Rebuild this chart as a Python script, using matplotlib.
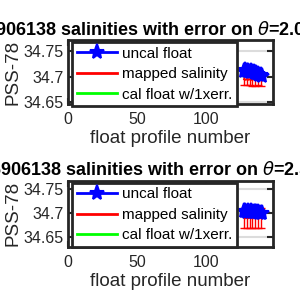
import numpy as np
import matplotlib
matplotlib.use("Agg")
import matplotlib.pyplot as plt
from matplotlib.lines import Line2D

plt.rcParams['font.family'] = ['Liberation Sans', 'DejaVu Sans']

# ---- data ----
profiles = [128, 129, 130, 131, 132, 133, 134, 135, 136, 137, 138, 139, 140, 141]

top_uncal = [34.712, 34.713, 34.711, 34.712, 34.710, 34.711, 34.709,
             34.710, 34.708, 34.707, 34.706, 34.704, 34.703, 34.702]
top_mapped = [34.695, 34.694, 34.695, 34.694, 34.695, 34.694, 34.694,
              34.695, 34.694, 34.694, 34.695, 34.694, 34.694, 34.695]
top_err = [0.012, 0.012, 0.012, 0.012, 0.012, 0.012, 0.012,
           0.012, 0.012, 0.012, 0.012, 0.012, 0.012, 0.012]

bot_uncal = [34.704, 34.705, 34.703, 34.704, 34.703, 34.704, 34.702,
             34.703, 34.702, 34.701, 34.701, 34.700, 34.699, 34.699]
bot_mapped = [34.690, 34.689, 34.690, 34.689, 34.690, 34.689, 34.690,
              34.689, 34.690, 34.689, 34.690, 34.689, 34.690, 34.689]
bot_err = [0.021, 0.021, 0.021, 0.021, 0.021, 0.021, 0.021,
           0.021, 0.021, 0.021, 0.021, 0.021, 0.021, 0.021]

titles = [r'6906138 salinities with error on $\theta$=2.0431°C',
          r'6906138 salinities with error on $\theta$=2.513°C']
ylims = [(34.646, 34.772), (34.629, 34.767)]
yticks = [34.65, 34.70, 34.75]
yticklabels = ['34.65', '34.7', '34.75']
xticks = [0, 50, 100]
legend_labels = ['uncal float', 'mapped salinity', 'cal float w/1xerr.']

dark = '#262626'

fig = plt.figure(figsize=(3, 3), dpi=100)
positions = [[0.227, 0.653, 0.683, 0.213], [0.227, 0.177, 0.683, 0.22]]
datasets = [(top_uncal, top_mapped, top_err), (bot_uncal, bot_mapped, bot_err)]

for pos, (unc, mp, er), title, yl in zip(positions, datasets, titles, ylims):
    ax = fig.add_axes(pos)
    ax.errorbar(profiles, mp, yerr=er, color='red', lw=1.5, capsize=3,
                elinewidth=1, capthick=1, zorder=3, errorevery=2)
    hb, = ax.plot(profiles, unc, color='blue', lw=2, marker='*', ms=11,
                  mew=1.5, zorder=4)
    hr = Line2D([], [], color='red', lw=2)
    hg = Line2D([], [], color='#00ff00', lw=2)
    ax.set_xlim(0, 149)
    ax.set_ylim(*yl)
    ax.set_xticks(xticks)
    ax.set_yticks(yticks)
    ax.set_yticklabels(yticklabels)
    ax.grid(True, color='#dcdcdc', lw=1.5)
    ax.set_axisbelow(True)
    for s in ax.spines.values():
        s.set_linewidth(2)
        s.set_color(dark)
    ax.tick_params(direction='in', length=4, width=1.5, top=True, right=True,
                   labelsize=11.5, colors=dark, pad=3)
    ax.tick_params(axis='x', pad=6)
    ax.set_xlabel('float profile number', fontsize=13.5, color=dark, labelpad=2)
    ax.set_ylabel('PSS-78', fontsize=13.5, color=dark, labelpad=2)
    ax.set_title(title, fontsize=13, fontweight='bold', pad=4)
    leg = ax.legend([hb, hr, hg], legend_labels, loc='upper left',
                    bbox_to_anchor=(0.02, 0.97), borderaxespad=0,
                    fontsize=11, fancybox=False, framealpha=1,
                    edgecolor=dark, handlelength=2.6, handletextpad=0.35,
                    labelspacing=0.42, borderpad=0.3)
    leg.get_frame().set_linewidth(2)
    leg.set_zorder(10)

fig.savefig('out.png', dpi=100)
